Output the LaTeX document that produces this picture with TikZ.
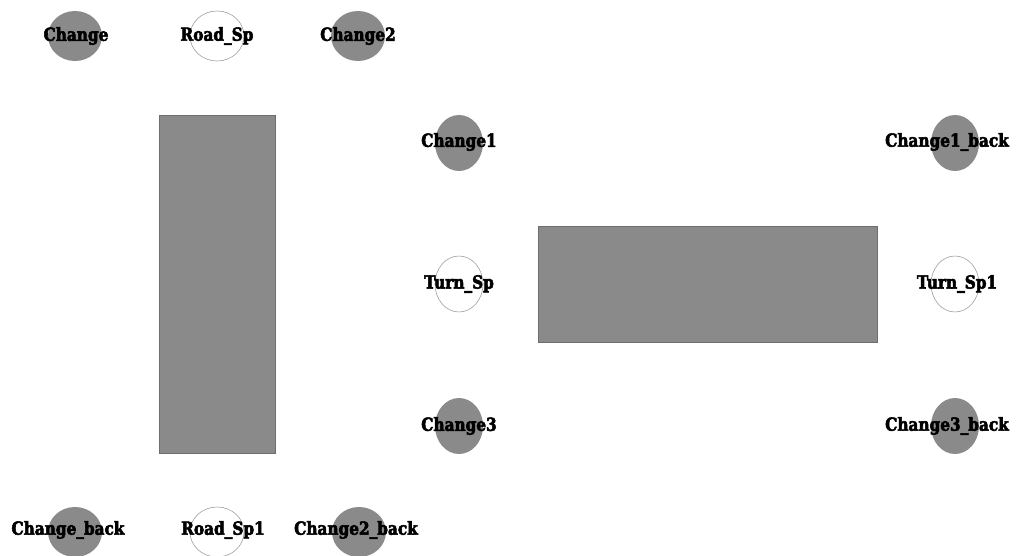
\documentclass[tikz,border=0pt]{standalone}
\usepackage{fontspec}
\newfontfamily\labfont{DejaVu Serif}[FakeStretch=0.85, BoldFeatures={FakeBold=3}]
\usetikzlibrary{shapes.geometric}
\definecolor{fillgray}{HTML}{8A8A8A}
\definecolor{edgegray}{HTML}{6E6E6E}
\definecolor{ringgray}{HTML}{A0A0A0}
\tikzset{
  lab/.style={font=\labfont\bfseries\fontsize{18}{18}\selectfont, text=black},
  gdot/.style={fill=fillgray},
  wdot/.style={draw=ringgray, line width=0.6pt, fill=white},
  block/.style={fill=fillgray, draw=edgegray, line width=0.6pt}
}
\begin{document}
\begin{tikzpicture}[x=1pt,y=-1pt]
\useasboundingbox (0,0) rectangle (1016,556);
% blocks
\draw[block] (159,115) rectangle (275,453);
\draw[block] (538,226) rectangle (877,342);
% top and bottom row markers
\fill[gdot] (75,36) ellipse (27 and 25);
\draw[wdot] (217,36) ellipse (27 and 25);
\fill[gdot] (358,36) ellipse (27 and 25);
\fill[gdot] (75,532) ellipse (27 and 25);
\draw[wdot] (217,532) ellipse (27 and 25);
\fill[gdot] (359,532) ellipse (27 and 25);
% column markers
\fill[gdot] (459,143) ellipse (24 and 28);
\draw[wdot] (459,284) ellipse (24 and 28);
\fill[gdot] (459,426) ellipse (24 and 28);
\fill[gdot] (955,143) ellipse (24 and 28);
\draw[wdot] (955,284) ellipse (24 and 28);
\fill[gdot] (955,426) ellipse (24 and 28);
% labels
\node[lab] (change) at (76,36) {Change};
\node[lab] (roadsp) at (217,36) {Road\_Sp};
\node[lab] (change2) at (358,36) {Change2};
\node[lab] (changeback) at (68,530) {Change\_back};
\node[lab] (roadsp1) at (223,530) {Road\_Sp1};
\node[lab] (change2back) at (356,530) {Change2\_back};
\node[lab] (change1) at (459,142) {Change1};
\node[lab] (turnsp) at (459,284) {Turn\_Sp};
\node[lab] (change3) at (459,426) {Change3};
\node[lab] (change1back) at (947,142) {Change1\_back};
\node[lab] (turnsp1) at (957,284) {Turn\_Sp1};
\node[lab] (change3back) at (947,426) {Change3\_back};
\end{tikzpicture}
\end{document}
